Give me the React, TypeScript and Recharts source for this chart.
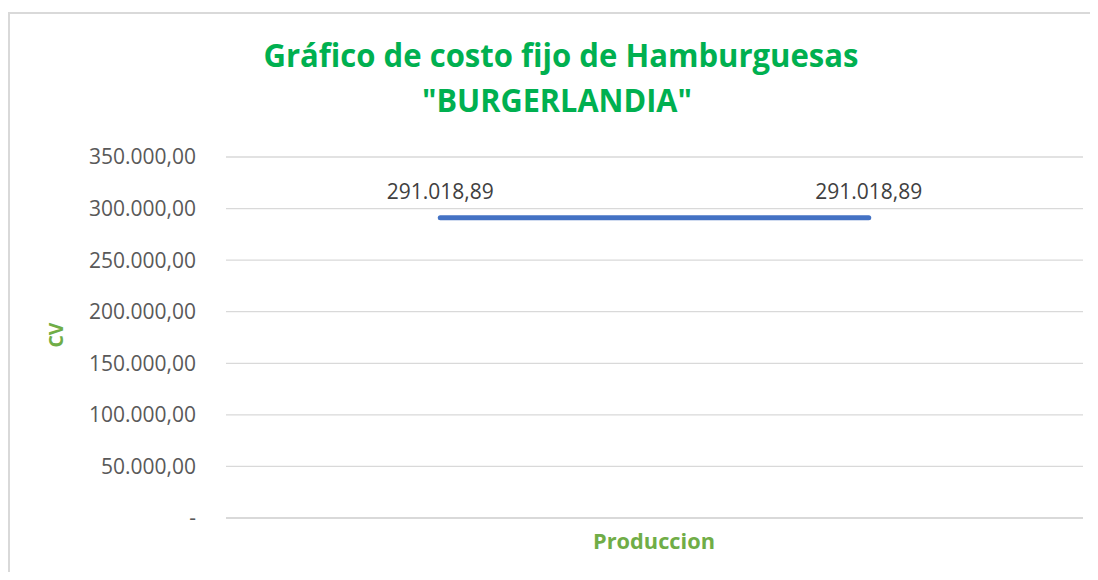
import React from "react";
import { LineChart, Line, XAxis, YAxis, CartesianGrid, LabelList } from "recharts";

const categories = ["1", "2"];
const costoFijo = [291018.89, 291018.89];
const yTicks = [0, 50000, 100000, 150000, 200000, 250000, 300000, 350000];
const titleLines = ["Gráfico de costo fijo de Hamburguesas", "\"BURGERLANDIA\""];
const xTitle = "Produccion";
const yTitle = "CV";

const data = categories.map((c, i) => ({ cat: c, cf: costoFijo[i] }));

const fmt = (v: number): string => {
  if (v === 0) return "-";
  const fixed = v.toFixed(2);
  const [intPart, dec] = fixed.split(".");
  const withDots = intPart.replace(/\B(?=(\d{3})+(?!\d))/g, ".");
  return `${withDots},${dec}`;
};

const FONT = "'Open Sans', 'Noto Sans', sans-serif";
const W = 1082;
const H = 564;

export default function App() {
  return (
    <div style={{ position: "relative", width: W, height: H, overflow: "hidden", fontFamily: FONT }}>
      <style>{"html,body{overflow:hidden;}"}</style>
      <div
        style={{
          position: "absolute",
          left: 0,
          top: 4,
          width: W,
          height: 600,
          borderLeft: "2px solid #d9d9d9",
          borderTop: "2px solid #d9d9d9",
          boxSizing: "border-box",
        }}
      />
      <div style={{ position: "absolute", left: 0, top: 0 }}>
        <LineChart
          width={W}
          height={H}
          data={data}
          margin={{ top: 149, right: 7, left: 0, bottom: 22 }}
        >
          <CartesianGrid vertical={false} stroke="#d9d9d9" strokeWidth={1.3} />
          <XAxis
            dataKey="cat"
            scale="band"
            tick={false}
            tickLine={false}
            height={32}
            axisLine={{ stroke: "#d9d9d9", strokeWidth: 2 }}
          />
          <YAxis
            width={218}
            domain={[0, 350000]}
            ticks={yTicks}
            interval={0}
            tickFormatter={fmt}
            axisLine={false}
            tickLine={false}
            tickSize={0}
            tickMargin={30}
            tick={{ fill: "#595959", fontSize: 21, fontFamily: FONT }}
          />
          <Line
            dataKey="cf"
            stroke="#4472C4"
            strokeWidth={5}
            strokeLinecap="round"
            dot={false}
            activeDot={false}
            isAnimationActive={false}
          >
            <LabelList
              dataKey="cf"
              position="top"
              offset={19}
              formatter={(v: any) => fmt(Number(v))}
              fill="#404040"
              fontSize={21}
              fontFamily={FONT}
            />
          </Line>
        </LineChart>
      </div>
      <svg
        width={W}
        height={H}
        style={{ position: "absolute", left: 0, top: 0, pointerEvents: "none" }}
      >
        <text
          x={553}
          y={59}
          textAnchor="middle"
          fill="#00B050"
          fontWeight="bold"
          fontSize={32}
          fontFamily={FONT}
          textLength={595}
          lengthAdjust="spacingAndGlyphs"
        >
          {titleLines[0]}
        </text>
        <text
          x={549}
          y={104}
          textAnchor="middle"
          fill="#00B050"
          fontWeight="bold"
          fontSize={32}
          fontFamily={FONT}
          textLength={270}
          lengthAdjust="spacingAndGlyphs"
        >
          {titleLines[1]}
        </text>
        <text
          x={646}
          y={541}
          textAnchor="middle"
          fill="#70AD47"
          fontWeight="bold"
          fontSize={21}
          fontFamily={FONT}
          textLength={122}
          lengthAdjust="spacingAndGlyphs"
        >
          {xTitle}
        </text>
        <text
          x={0}
          y={0}
          transform="translate(55,327) rotate(-90)"
          textAnchor="middle"
          fill="#70AD47"
          fontWeight="bold"
          fontSize={20}
          fontFamily={FONT}
          textLength={25}
          lengthAdjust="spacingAndGlyphs"
        >
          {yTitle}
        </text>
      </svg>
    </div>
  );
}
